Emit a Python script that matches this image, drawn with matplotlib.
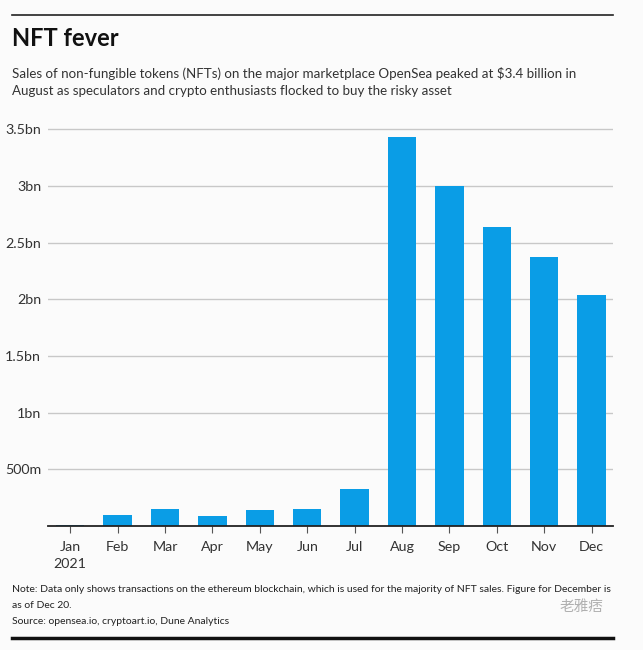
import matplotlib.pyplot as plt
import numpy as np

# OpenSea monthly NFT sales, 2021 (billions of USD)
months = ["Jan\n2021", "Feb", "Mar", "Apr", "May", "Jun", "Jul", "Aug", "Sep", "Oct", "Nov", "Dec"]
sales = [0.008, 0.095, 0.147, 0.091, 0.141, 0.147, 0.324, 3.43, 3.0, 2.64, 2.37, 2.04]
yticks = [0.5, 1.0, 1.5, 2.0, 2.5, 3.0, 3.5]
ylabels = ["500m", "1bn", "1.5bn", "2bn", "2.5bn", "3bn", "3.5bn"]

plt.rcParams['font.family'] = ['Lato', 'Noto Sans CJK SC', 'DejaVu Sans']
bg = '#fbfbfb'
fig = plt.figure(figsize=(6.43, 6.5), dpi=100, facecolor=bg)
ax = fig.add_axes([48/643, 124/650, (613-48)/643, (526-123)/650], facecolor=bg)

x = np.arange(len(months))
ax.bar(x, sales, width=0.6, color='#0a9de6', zorder=3)

ax.set_xlim(-0.47, 11.45)
ax.set_ylim(0, 3.555)
ax.set_yticks(yticks)
ax.set_yticklabels(ylabels, fontsize=10.3, color='#333333')
ax.set_xticks(x)
ax.set_xticklabels(months, fontsize=10.3, color='#333333', linespacing=1.5)
ax.grid(axis='y', color='#c8c8c8', linewidth=1, zorder=0)
for s in ['top', 'right', 'left']:
    ax.spines[s].set_visible(False)
ax.spines['bottom'].set_color('#222222')
ax.spines['bottom'].set_linewidth(1.3)
ax.spines['bottom'].set_zorder(4)
ax.tick_params(axis='y', length=0, pad=5)
ax.tick_params(axis='x', length=5, color='#555555', pad=6)

# header / footer
fig.add_artist(plt.Line2D([12/643, 613/643], [1 - 15/650, 1 - 15/650], color='#222222', lw=1.2))
fig.text(12/643, 1 - 38/650, "NFT fever", fontsize=17, fontweight='bold', va='center', color='#111111')
fig.text(12/643, 1 - 82/650,
         "Sales of non-fungible tokens (NFTs) on the major marketplace OpenSea peaked at $3.4 billion in\n"
         "August as speculators and crypto enthusiasts flocked to buy the risky asset",
         fontsize=9.6, va='center', color='#333333', linespacing=1.55)
fig.text(12/643, 1 - 590/650,
         "Note: Data only shows transactions on the ethereum blockchain, which is used for the majority of NFT sales. Figure for December is",
         fontsize=7.5, va='center', color='#222222')
fig.text(12/643, 1 - 606/650, "as of Dec 20.", fontsize=7.5, va='center', color='#222222')
fig.text(12/643, 1 - 622/650, "Source: opensea.io, cryptoart.io, Dune Analytics",
         fontsize=7.5, va='center', color='#222222')
fig.text(560/643, 1 - 607/650, "老雅痞", fontsize=10.5, va='center', color='#b0b0b0')
fig.add_artist(plt.Line2D([12/643, 613/643], [1 - 638/650, 1 - 638/650], color='#111111', lw=2.5))

plt.savefig("out.png", dpi=100, facecolor=bg)
